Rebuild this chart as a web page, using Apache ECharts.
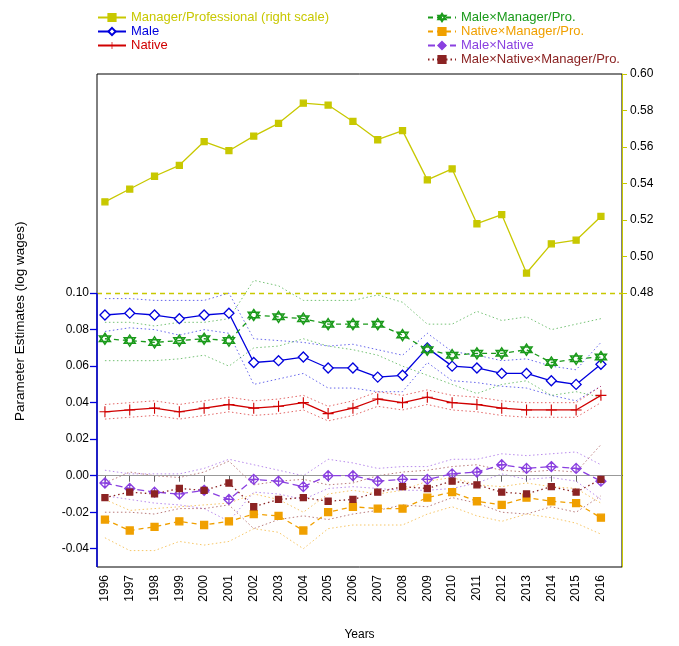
<!DOCTYPE html><html><head><meta charset="utf-8">
<script src="https://cdn.jsdelivr.net/npm/echarts@6/dist/echarts.min.js"></script>
<style>html,body{margin:0;background:#fff}#c{width:679px;height:646px}</style></head><body><div id="c"></div><script>
const years=[1996,1997,1998,1999,2000,2001,2002,2003,2004,2005,2006,2007,2008,2009,2010,2011,2012,2013,2014,2015,2016];
const manager=[0.530,0.537,0.544,0.550,0.563,0.558,0.566,0.573,0.584,0.583,0.574,0.564,0.569,0.542,0.548,0.518,0.523,0.491,0.507,0.509,0.522];
const male=[0.088,0.089,0.088,0.086,0.088,0.089,0.062,0.063,0.065,0.059,0.059,0.054,0.055,0.070,0.060,0.059,0.056,0.056,0.052,0.050,0.061];
const maleHi=[0.097,0.097,0.096,0.096,0.096,0.100,0.075,0.074,0.073,0.071,0.072,0.069,0.066,0.078,0.068,0.066,0.063,0.064,0.060,0.058,0.073];
const maleLo=[0.079,0.081,0.080,0.077,0.080,0.078,0.050,0.053,0.056,0.048,0.048,0.046,0.046,0.062,0.052,0.051,0.049,0.048,0.044,0.041,0.049];
const native=[0.035,0.036,0.037,0.035,0.037,0.039,0.037,0.038,0.040,0.034,0.037,0.042,0.040,0.043,0.040,0.039,0.037,0.036,0.036,0.036,0.044];
const nativeHi=[0.039,0.040,0.041,0.039,0.041,0.043,0.041,0.042,0.044,0.038,0.041,0.046,0.044,0.047,0.044,0.043,0.041,0.040,0.040,0.040,0.049];
const nativeLo=[0.031,0.032,0.033,0.031,0.033,0.035,0.033,0.034,0.036,0.030,0.033,0.038,0.036,0.039,0.036,0.035,0.033,0.032,0.032,0.032,0.040];
const maleMgr=[0.075,0.074,0.073,0.074,0.075,0.074,0.088,0.087,0.086,0.083,0.083,0.083,0.077,0.069,0.066,0.067,0.067,0.069,0.062,0.064,0.065];
const maleMgrHi=[0.084,0.084,0.082,0.084,0.084,0.086,0.107,0.104,0.096,0.096,0.096,0.099,0.095,0.083,0.083,0.090,0.085,0.087,0.080,0.083,0.086];
const maleMgrLo=[0.063,0.063,0.063,0.064,0.066,0.060,0.070,0.071,0.075,0.071,0.069,0.066,0.060,0.055,0.050,0.045,0.050,0.052,0.044,0.046,0.043];
const nativeMgr=[-0.024,-0.030,-0.028,-0.025,-0.027,-0.025,-0.021,-0.022,-0.030,-0.020,-0.017,-0.018,-0.018,-0.012,-0.009,-0.014,-0.016,-0.012,-0.014,-0.015,-0.023];
const nativeMgrHi=[-0.013,-0.019,-0.018,-0.017,-0.016,-0.015,-0.010,-0.013,-0.020,-0.010,-0.008,-0.010,-0.008,-0.003,-0.001,-0.005,-0.006,-0.004,-0.006,-0.007,-0.015];
const nativeMgrLo=[-0.034,-0.041,-0.041,-0.036,-0.038,-0.036,-0.029,-0.031,-0.040,-0.029,-0.027,-0.027,-0.027,-0.021,-0.017,-0.022,-0.025,-0.021,-0.023,-0.026,-0.032];
const maleNative=[-0.004,-0.007,-0.009,-0.010,-0.008,-0.013,-0.002,-0.003,-0.006,0.000,0.000,-0.003,-0.002,-0.002,0.001,0.002,0.006,0.004,0.005,0.004,-0.003];
const maleNativeHi=[0.003,0.001,0.001,0.001,0.004,0.009,0.006,0.003,0.000,0.009,0.007,0.004,0.005,0.005,0.009,0.009,0.012,0.011,0.012,0.013,0.006];
const maleNativeLo=[-0.011,-0.013,-0.015,-0.016,-0.018,-0.025,-0.009,-0.010,-0.013,-0.007,-0.006,-0.007,-0.008,-0.008,-0.007,-0.004,0.001,-0.002,-0.001,-0.003,-0.013];
const mnm=[-0.012,-0.009,-0.010,-0.007,-0.008,-0.004,-0.017,-0.013,-0.012,-0.014,-0.013,-0.009,-0.006,-0.007,-0.003,-0.005,-0.009,-0.010,-0.006,-0.009,-0.002];
const mnmHi=[-0.004,0.002,0.000,-0.001,0.002,0.008,-0.005,-0.003,-0.002,-0.005,-0.004,0.000,0.002,0.003,0.005,0.006,0.003,0.002,0.003,0.002,0.017];
const mnmLo=[-0.020,-0.020,-0.021,-0.018,-0.018,-0.016,-0.029,-0.024,-0.022,-0.024,-0.021,-0.019,-0.016,-0.017,-0.012,-0.015,-0.020,-0.021,-0.017,-0.020,-0.011];
const leftTicks=[-0.04,-0.02,0,0.02,0.04,0.06,0.08,0.10];
const rightTicks=[0.48,0.50,0.52,0.54,0.56,0.58,0.60];
const xMin=1995.68,xMax=2016.85,yMin=-0.05,yMax=0.22;

const C={y:'#c8c800',b:'#0000dd',r:'#d00000',g:'#1a9a1a',o:'#f0a000',p:'#8a40e0',m:'#8b2323'};
const plus='path://M5.4,0H6.6V5.4H12V6.6H6.6V12H5.4V6.6H0V5.4H5.4Z';
const star='path://M50,0L93,75H7Z M50,100L7,25H93Z';
const dcross='path://M50,0L100,50L50,100L0,50Z M50,0V100 M0,50H100';
const z=a=>years.map((y,i)=>[y,a[i]]);
function main(name,data,color,sym,size,ltype,extra){return Object.assign({name,type:'line',data:z(data),symbol:sym,symbolSize:size,
 lineStyle:{color,width:1.3,type:ltype},itemStyle:{color,borderColor:color,borderWidth:1.3},z:5,animation:false},extra||{});}
function ci(data,color){return {type:'line',data:z(data),symbol:'none',lineStyle:{color,width:1,type:[1.5,2.5],opacity:0.6},animation:false,silent:true};}
const series=[
 main('Manager/Professional (right scale)',manager,C.y,'rect',6,'solid',{yAxisIndex:1}),
 main('Male',male,C.b,'diamond',10,'solid',{itemStyle:{color:'#fff',borderColor:C.b,borderWidth:1.3}}),ci(maleHi,C.b),ci(maleLo,C.b),
 main('Native',native,C.r,plus,11,'solid',{itemStyle:{color:C.r,borderWidth:0}}),ci(nativeHi,C.r),ci(nativeLo,C.r),
 main('Male×Manager/Pro.',maleMgr,C.g,star,11,[5,4],{itemStyle:{color:'rgba(0,0,0,0)',borderColor:C.g,borderWidth:1.5}}),ci(maleMgrHi,C.g),ci(maleMgrLo,C.g),
 main('Native×Manager/Pro.',nativeMgr,C.o,'rect',7,[5,4]),ci(nativeMgrHi,C.o),ci(nativeMgrLo,C.o),
 main('Male×Native',maleNative,C.p,dcross,10,[7,4],{itemStyle:{color:'rgba(0,0,0,0)',borderColor:C.p,borderWidth:1.3}}),ci(maleNativeHi,C.p),ci(maleNativeLo,C.p),
 main('Male×Native×Manager/Pro.',mnm,C.m,'rect',6,[1.5,3]),ci(mnmHi,C.m),ci(mnmLo,C.m)
];
series[1].markLine={silent:true,symbol:'none',label:{show:false},data:[
 {yAxis:0.10,lineStyle:{color:C.y,type:[5,4],width:1.3}},
 {yAxis:0,lineStyle:{color:'#999',type:'solid',width:1}},
 [{coord:[xMin,yMin],lineStyle:{color:C.b,type:'solid',width:1.5}},{coord:[xMin,0.10]}]]};
const ch=echarts.init(document.getElementById('c'));
ch.setOption({animation:false,
 grid:{left:97,right:57,top:74,bottom:76,show:true,borderColor:'#000',borderWidth:1},
 legend:[
  {left:92,top:6,orient:'vertical',itemGap:1,itemWidth:28,itemHeight:9,textStyle:{fontSize:13,fontFamily:'Liberation Sans'},
   data:[{name:'Manager/Professional (right scale)',textStyle:{color:C.y}},{name:'Male',textStyle:{color:C.b}},{name:'Native',textStyle:{color:C.r}}]},
  {left:422,top:6,orient:'vertical',itemGap:1,itemWidth:28,itemHeight:9,textStyle:{fontSize:13,fontFamily:'Liberation Sans'},
   data:[{name:'Male×Manager/Pro.',textStyle:{color:C.g}},{name:'Native×Manager/Pro.',textStyle:{color:C.o}},{name:'Male×Native',textStyle:{color:C.p}},{name:'Male×Native×Manager/Pro.',textStyle:{color:C.m}}]}],
 xAxis:{type:'value',min:xMin,max:xMax,name:'Years',nameLocation:'middle',nameGap:62,nameTextStyle:{fontSize:12,color:'#000',fontFamily:'Liberation Sans'},
  splitLine:{show:false},axisLine:{lineStyle:{color:'#000'}},
  axisTick:{customValues:years,length:6,lineStyle:{color:'#666'}},
  axisLabel:{customValues:years,rotate:90,color:'#000',fontSize:12,fontFamily:'Liberation Sans',formatter:v=>String(Math.round(v))}},
 yAxis:[
  {type:'value',min:yMin,max:yMax,splitLine:{show:false},axisLine:{show:false},
   axisTick:{show:true,customValues:leftTicks,length:7,lineStyle:{color:C.b,width:1.3}},
   axisLabel:{customValues:leftTicks,color:'#000',fontSize:12,fontFamily:'Liberation Sans',formatter:v=>v.toFixed(2)}},
  {type:'value',min:0.33,max:0.60,position:'right',splitLine:{show:false},axisLine:{show:true,lineStyle:{color:C.y}},
   axisTick:{show:true,customValues:rightTicks,length:5,lineStyle:{color:C.y}},
   axisLabel:{customValues:rightTicks,color:'#000',fontSize:12,fontFamily:'Liberation Sans',formatter:v=>v.toFixed(2)}}],
 graphic:[{type:'text',x:13,y:421,rotation:Math.PI/2,style:{text:'Parameter Estimates (log wages)',fill:'#000',font:'13.5px Liberation Sans'}}],
 series});
</script></body></html>
